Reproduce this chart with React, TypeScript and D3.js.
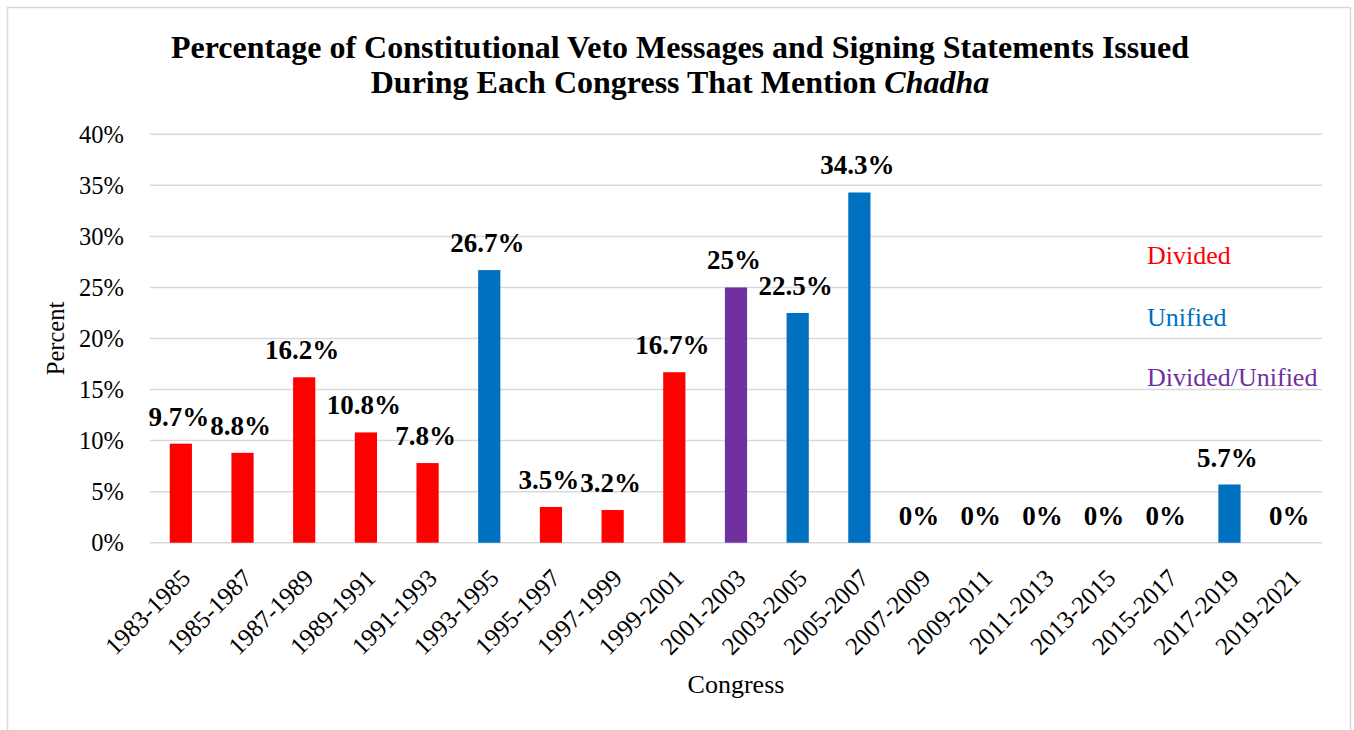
import React from "react";
import * as d3 from "d3";

const categories = ["1983-1985","1985-1987","1987-1989","1989-1991","1991-1993","1993-1995","1995-1997","1997-1999","1999-2001","2001-2003","2003-2005","2005-2007","2007-2009","2009-2011","2011-2013","2013-2015","2015-2017","2017-2019","2019-2021"];
const values = [9.7, 8.8, 16.2, 10.8, 7.8, 26.7, 3.5, 3.2, 16.7, 25, 22.5, 34.3, 0, 0, 0, 0, 0, 5.7, 0];
const government = ["Divided","Divided","Divided","Divided","Divided","Unified","Divided","Divided","Divided","Divided/Unified","Unified","Unified","Divided","Divided","Divided","Divided","Divided","Unified","Divided"];
const labels = ["9.7%","8.8%","16.2%","10.8%","7.8%","26.7%","3.5%","3.2%","16.7%","25%","22.5%","34.3%","0%","0%","0%","0%","0%","5.7%","0%"];
const yTicks = [0, 5, 10, 15, 20, 25, 30, 35, 40];
const legendItems = ["Divided", "Unified", "Divided/Unified"];

const colorOf: Record<string, string> = {
  "Divided": "#FF0000",
  "Unified": "#0070C0",
  "Divided/Unified": "#7030A0",
};

const W = 1354, H = 730;
const left = 150, right = 1322, top = 134.3, bottom = 542.7;
const font = "'Liberation Serif', 'Times New Roman', serif";

export default function App() {
  const x = d3.scaleBand<string>().domain(categories).range([left, right]).paddingInner(0.64).paddingOuter(0.32);
  const y = d3.scaleLinear().domain([0, 40]).range([bottom, top]);
  const bw = x.bandwidth();
  const legendY = [264, 326, 386];
  return (
    <svg width={W} height={H} style={{ position: "absolute", left: 0, top: 0, background: "#fff" }} fontFamily={font}>
      <rect x={7.5} y={7.5} width={1343} height={730} fill="#fff" stroke="#d9d9d9" strokeWidth={1.5} />
      <text x={680} y={58} textAnchor="middle" fontSize={32} fontWeight="bold">Percentage of Constitutional Veto Messages and Signing Statements Issued</text>
      <text x={680} y={93} textAnchor="middle" fontSize={32} fontWeight="bold">During Each Congress That Mention <tspan fontStyle="italic">Chadha</tspan></text>
      {yTicks.map((t) => (
        <g key={t}>
          <line x1={left} x2={right} y1={y(t)} y2={y(t)} stroke="#d9d9d9" strokeWidth={1.5} />
          <text x={124} y={y(t)} dy="0.35em" textAnchor="end" fontSize={24.5}>{t}%</text>
        </g>
      ))}
      {categories.map((c, i) => (
        <rect key={c} x={x(c)} y={y(values[i])} width={bw} height={y(0) - y(values[i])} fill={colorOf[government[i]]} />
      ))}
      {categories.map((c, i) => (
        <text key={c + "l"} x={(x(c) as number) + bw / 2 - 2} y={y(values[i]) - 18} textAnchor="middle" fontSize={27} fontWeight="bold">{labels[i]}</text>
      ))}
      {categories.map((c) => {
        const cx = (x(c) as number) + bw / 2 + 11;
        const cy = bottom + 37;
        return (
          <text key={c + "x"} x={cx} y={cy} transform={`rotate(-45 ${cx} ${cy})`} textAnchor="end" fontSize={25}>{c}</text>
        );
      })}
      {legendItems.map((l, i) => (
        <text key={l} x={1147} y={legendY[i]} fontSize={26} fill={colorOf[l]}>{l}</text>
      ))}
      <text transform={`translate(64 ${(top + bottom) / 2}) rotate(-90)`} textAnchor="middle" fontSize={24.5}>Percent</text>
      <text x={(left + right) / 2} y={693} textAnchor="middle" fontSize={26}>Congress</text>
    </svg>
  );
}
